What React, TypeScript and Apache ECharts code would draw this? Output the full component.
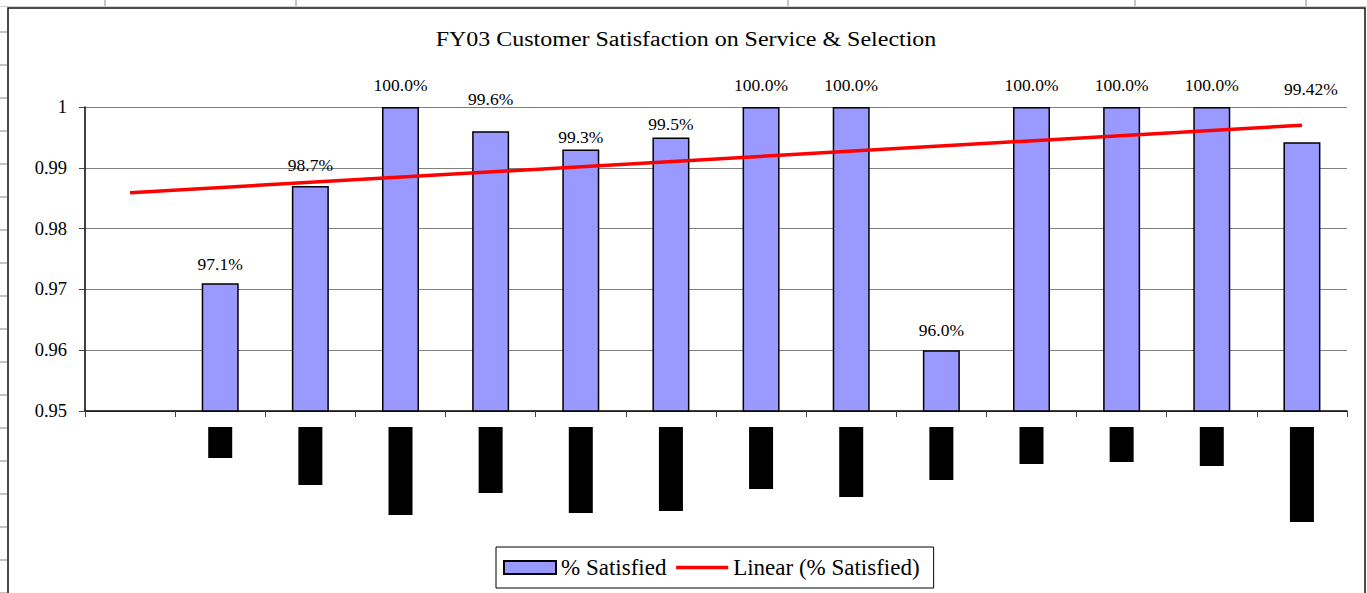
import React, { useEffect, useRef } from "react";
import * as echarts from "echarts";

// ---- data ----
const categories: string[] = ["", "", "", "", "", "", "", "", "", "", "", "", "", ""];
const satisfied: (number | null)[] = [null, 0.971, 0.987, 1.0, 0.996, 0.993, 0.995, 1.0, 1.0, 0.96, 1.0, 1.0, 1.0, 0.9942];
const valueLabels: string[] = ["", "97.1%", "98.7%", "100.0%", "99.6%", "99.3%", "99.5%", "100.0%", "100.0%", "96.0%", "100.0%", "100.0%", "100.0%", "99.42%"];
const trendStart = 0.9859;
const trendEnd = 0.997;
const yMin = 0.95;
const yMax = 1;
const yStep = 0.01;
const titleText = "FY03 Customer Satisfaction on Service & Selection";

// ---- styling (redacted category label boxes, hand-placed value labels) ----
const redactedLabelHeights = [0, 31, 58, 88, 66, 86, 84, 62, 70, 53, 37, 35, 39, 95];
const labelDistance = [0, 10, 12, 13, 23, 4, 4, 13, 13, 11, 13, 13, 13, 44];
const labelShiftX = [0, 0, 0, 0, 0, 0, 0, 0, 0, 0, 0, 0, 0, 9];

const FONT = "Liberation Serif";

export default function App() {
  const ref = useRef<HTMLDivElement>(null);

  useEffect(() => {
    if (!ref.current) return;
    const chart = echarts.init(ref.current, null, { renderer: "svg" });

    const rich: Record<string, any> = {};
    redactedLabelHeights.forEach((h, i) => {
      rich["r" + i] = { width: 24, height: h, lineHeight: h, backgroundColor: "#000", fontSize: 1 };
    });

    const last = categories.length - 1;
    const trendData = categories.map((_, i) => (i === 0 ? trendStart : i === last ? trendEnd : null));

    const sheetLines: any[] = [];
    [105, 296, 788, 1135, 1306].forEach((x) => {
      sheetLines.push({
        type: "line",
        shape: { x1: x, y1: 0, x2: x, y2: 7 },
        style: { stroke: "#c4c4c4", lineWidth: 2 },
        silent: true,
      });
    });
    for (let k = 0; k < 18; k++) {
      const y = 32 + 33 * k;
      sheetLines.push({
        type: "line",
        shape: { x1: 0, y1: y, x2: 7, y2: y },
        style: { stroke: "#c4c4c4", lineWidth: 2 },
        silent: true,
      });
    }
    sheetLines.push({
      type: "line",
      shape: { x1: 0, y1: 6.5, x2: 1367, y2: 6.5 },
      style: { stroke: "#d0d0d0", lineWidth: 1 },
      silent: true,
    });

    chart.setOption({
      animation: false,
      backgroundColor: "#fff",
      graphic: [
        {
          type: "rect",
          z: -10,
          shape: { x: 8, y: 8, width: 1357, height: 640 },
          style: { fill: "#fff", stroke: "#111", lineWidth: 1.5 },
          silent: true,
        },
        ...sheetLines,
        {
          type: "text",
          x: 686,
          y: 39,
          scaleX: 1.17,
          style: {
            text: titleText,
            fontFamily: FONT,
            fontSize: 20.5,
            fontWeight: "normal",
            fill: "#000",
            align: "center",
            verticalAlign: "middle",
          },
        },
      ],
      legend: {
        left: 496,
        top: 547,
        padding: [9, 14, 9, 7],
        borderColor: "#000",
        borderWidth: 1,
        itemGap: 8,
        itemWidth: 52,
        itemHeight: 13,
        textStyle: { fontFamily: FONT, fontSize: 23, color: "#000" },
        data: [
          { name: "% Satisfied", icon: "rect" },
          {
            name: "Linear (% Satisfied)",
            itemStyle: { opacity: 0 },
            lineStyle: { color: "#FF0000", width: 3.5 },
          },
        ],
      },
      grid: { left: 85, right: 20, top: 107, bottom: 182, containLabel: false },
      xAxis: {
        type: "category",
        data: categories,
        boundaryGap: true,
        axisLine: { show: true, lineStyle: { color: "#000", width: 1.5 } },
        axisTick: { show: true, length: 6, alignWithLabel: false, lineStyle: { color: "#444" } },
        axisLabel: {
          interval: 0,
          margin: 16,
          verticalAlign: "top",
          formatter: (_v: string, i: number) => (redactedLabelHeights[i] > 0 ? `{r${i}|\u00a0}` : ""),
          rich,
        },
        splitLine: { show: false },
      },
      yAxis: {
        type: "value",
        min: yMin,
        max: yMax,
        interval: yStep,
        axisLine: { show: true, lineStyle: { color: "#000", width: 1.5 } },
        axisTick: { show: true, length: 6, lineStyle: { color: "#444" } },
        axisLabel: {
          margin: 18,
          fontFamily: FONT,
          fontSize: 18.5,
          color: "#000",
          formatter: (v: number) => String(Number(v.toFixed(2))),
        },
        splitLine: { show: true, lineStyle: { color: "#808080", width: 1 } },
      },
      series: [
        {
          name: "% Satisfied",
          type: "bar",
          barWidth: 37,
          itemStyle: { color: "#9999FF", borderColor: "#000", borderWidth: 1.5 },
          data: satisfied.map((v, i) => ({
            value: v === null ? "-" : v,
            label: {
              show: v !== null,
              position: "top",
              distance: labelDistance[i],
              offset: [labelShiftX[i], 0],
              formatter: valueLabels[i],
              fontFamily: FONT,
              fontSize: 17.5,
              color: "#000",
            },
          })),
        },
        {
          name: "Linear (% Satisfied)",
          type: "line",
          data: trendData,
          connectNulls: true,
          symbol: "none",
          lineStyle: { color: "#FF0000", width: 3.5 },
          itemStyle: { color: "#FF0000" },
          z: 5,
        },
      ],
    });

    return () => chart.dispose();
  }, []);

  return (
    <div
      ref={ref}
      style={{ position: "fixed", left: 0, top: 0, width: 1367, height: 593, background: "#fff" }}
    />
  );
}
